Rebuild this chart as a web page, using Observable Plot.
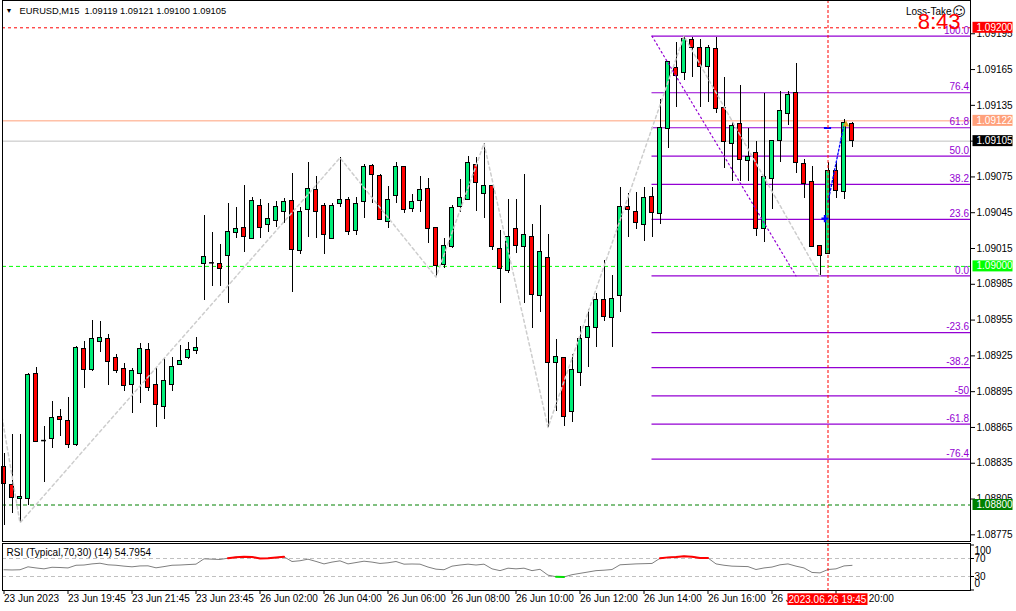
<!DOCTYPE html>
<html><head><meta charset="utf-8">
<script src="https://cdn.jsdelivr.net/npm/d3@7"></script>
<script src="https://cdn.jsdelivr.net/npm/@observablehq/plot@0.6"></script>
<style>
body{margin:0;background:#fff;}
#wrap{position:relative;width:1016px;height:611px;overflow:hidden;background:#fff;}
#wrap svg{position:absolute;left:0;}
</style></head><body><div id="wrap"></div>
<script>
// ---------------- DATA ----------------
const symbol = "EURUSD,M15";
const opens = [
1.08832,1.08817,1.08805,1.08805,1.08910,1.08854,1.08855,1.08874,1.08870,1.08850,
1.08931,1.08913,1.08937,1.08939,1.08923,1.08914,1.08901,1.08910,1.08930,1.08901,
1.08882,1.08901,1.08917,1.08923,1.08929,1.09002,1.09003,1.09002,1.09009,1.09028,
1.09032,1.09023,1.09051,1.09035,1.09038,1.09046,1.09055,1.09013,1.09047,1.09064,
1.09051,1.09023,1.09052,1.09056,1.09030,1.09054,1.09084,1.09076,1.09037,1.09059,
1.09083,1.09048,1.09055,1.09065,1.09032,1.09001,1.09016,1.09050,1.09056,1.09085,
1.09061,1.09067,1.09015,1.08996,1.09031,1.09016,1.09025,1.08975,1.09007,1.08919,
1.08923,1.08878,1.08911,1.08940,1.08948,1.08972,1.08957,1.08975,1.09050,1.09046,
1.09035,1.09058,1.09044,1.09115,1.09166,1.09162,1.09190,1.09183,1.09167,1.09182,
1.09133,1.09103,1.09119,1.09088,1.09095,1.09031,1.09073,1.09105,1.09128,1.09145,
1.09086,1.09071,1.09017,1.09010,1.09080,1.09062,1.09119];
const highs = [
1.08843,1.08859,1.08859,1.08910,1.08915,1.08866,1.08887,1.08880,1.08890,1.08933,
1.08937,1.08955,1.08954,1.08943,1.08926,1.08919,1.08914,1.08935,1.08935,1.08915,
1.08923,1.08924,1.08934,1.08936,1.08940,1.09043,1.09028,1.09018,1.09053,1.09049,
1.09068,1.09058,1.09056,1.09053,1.09054,1.09057,1.09078,1.09049,1.09087,1.09075,
1.09053,1.09053,1.09091,1.09058,1.09058,1.09085,1.09085,1.09077,1.09067,1.09087,
1.09084,1.09060,1.09075,1.09074,1.09032,1.09023,1.09051,1.09073,1.09092,1.09091,
1.09103,1.09067,1.09030,1.09056,1.09056,1.09077,1.09035,1.09051,1.09027,1.08939,
1.08923,1.08926,1.08950,1.08964,1.08977,1.09005,1.08992,1.09066,1.09061,1.09062,
1.09066,1.09066,1.09140,1.09171,1.09188,1.09193,1.09192,1.09190,1.09185,1.09192,
1.09158,1.09121,1.09152,1.09116,1.09105,1.09145,1.09105,1.09147,1.09147,1.09170,
1.09090,1.09084,1.09017,1.09087,1.09087,1.09123,1.09121];
const lows = [
1.08783,1.08793,1.08785,1.08800,1.08852,1.08819,1.08847,1.08857,1.08847,1.08849,
1.08898,1.08912,1.08928,1.08900,1.08910,1.08895,1.08877,1.08885,1.08895,1.08865,
1.08872,1.08895,1.08917,1.08922,1.08926,1.08971,1.08983,1.08983,1.08969,1.09023,
1.09012,1.09023,1.09023,1.09028,1.09033,1.09036,1.08978,1.09010,1.09024,1.09023,
1.09010,1.09023,1.09049,1.09026,1.09026,1.09040,1.09053,1.09039,1.09032,1.09053,
1.09044,1.09045,1.09045,1.09019,1.08991,1.08998,1.09015,1.09045,1.09056,1.09046,
1.09040,1.09013,1.08969,1.08994,1.09011,1.08969,1.08948,1.08961,1.08865,1.08878,
1.08866,1.08869,1.08899,1.08915,1.08932,1.08954,1.08932,1.08961,1.09024,1.09031,
1.09021,1.09024,1.09035,1.09099,1.09133,1.09156,1.09158,1.09133,1.09137,1.09128,
1.09082,1.09071,1.09071,1.09071,1.09025,1.09020,1.09048,1.09087,1.09118,1.09078,
1.09057,1.09016,1.08992,1.09010,1.09057,1.09056,1.09100];
const closes = [
1.08818,1.08806,1.08807,1.08909,1.08853,1.08854,1.08873,1.08871,1.08850,1.08932,
1.08913,1.08939,1.08940,1.08920,1.08912,1.08900,1.08912,1.08931,1.08898,1.08884,
1.08904,1.08916,1.08921,1.08930,1.08932,1.09008,1.09003,1.08998,1.09029,1.09031,
1.09025,1.09055,1.09032,1.09040,1.09050,1.09054,1.09014,1.09046,1.09065,1.09046,
1.09026,1.09051,1.09056,1.09029,1.09052,1.09083,1.09077,1.09039,1.09056,1.09083,
1.09047,1.09054,1.09064,1.09031,1.09000,1.09017,1.09049,1.09057,1.09087,1.09070,
1.09067,1.09016,1.08998,1.09025,1.09017,1.09026,1.08976,1.09012,1.08919,1.08924,
1.08874,1.08913,1.08939,1.08949,1.08972,1.08958,1.08973,1.09050,1.09047,1.09036,
1.09057,1.09045,1.09116,1.09171,1.09160,1.09191,1.09183,1.09167,1.09183,1.09132,
1.09104,1.09118,1.09089,1.09092,1.09031,1.09075,1.09105,1.09130,1.09144,1.09087,
1.09069,1.09016,1.09009,1.09080,1.09063,1.09120,1.09105];
const rsiValues = [
45.0,44.5,45.0,51.5,49.0,47.0,50.5,50.0,49.0,55.0,
55.5,58.0,59.5,56.0,55.0,53.0,51.5,53.5,53.7,49.3,
52.0,55.0,55.5,56.5,57.4,69.3,68.5,67.8,70.7,73.0,
73.7,73.5,70.2,70.4,72.0,73.7,63.3,65.0,68.5,63.5,
58.0,62.0,64.8,58.0,61.0,64.0,62.0,59.0,60.5,63.3,
57.4,57.8,57.4,51.0,46.3,45.0,53.0,55.5,57.4,55.5,
57.4,47.0,43.0,48.5,47.0,48.5,43.0,46.0,33.0,29.5,
29.0,34.0,37.0,40.0,43.0,44.0,45.5,56.0,57.0,58.0,
58.5,59.0,70.5,72.5,73.5,75.0,74.0,71.0,71.0,58.0,
55.0,53.0,52.5,52.0,45.5,49.0,51.0,56.0,58.0,53.0,
49.0,39.0,38.0,45.5,47.0,53.5,54.7954];
const timeTickBars = [0,8,16,24,32,40,48,56,64,72,80,88,96,104];
const timeTickLabels = ["23 Jun 2023","23 Jun 19:45","23 Jun 21:45","23 Jun 23:45","26 Jun 02:00","26 Jun 04:00","26 Jun 06:00","26 Jun 08:00","26 Jun 10:00","26 Jun 12:00","26 Jun 14:00","26 Jun 16:00","26 Jun 18:00","26 Jun 20:00"];
const priceTicks = [1.09195,1.09165,1.09135,1.09105,1.09075,1.09045,1.09015,1.08985,1.08955,1.08925,1.08895,1.08865,1.08835,1.08805,1.08775];
const rsiTicks = [100,70,30,0];
const rsiLevels = [70,30];
const fibHigh = 1.09193, fibLow = 1.08992, fibStartBar = 81, fibEndBar = 99;
const fibLevels = [100,76.4,61.8,50,38.2,23.6,0,-23.6,-38.2,-50,-61.8,-76.4];
const fibLabels = ["100.0","76.4","61.8","50.0","38.2","23.6","0.0","-23.6","-38.2","-50","-61.8","-76.4"];
const zigBars   = [-2,2,42,54,60,68,85,102];
const zigPrices = [1.08943,1.08785,1.09091,1.08991,1.09103,1.08865,1.09193,1.08992];
const cursorBar = 103;
const cursorLabel = "2023.06.26 19:45";
const bluePathBars = [103,105];
const bluePathPrices = [1.09054,1.09119];
const blueCrossBar = 103, blueCrossPrice = 1.09040;
const blueDashBar = 103, blueDashPrice = 1.09116;
const goldMarkBar = 105, goldMarkPrice = 1.09119;
const levelPrices = [1.09200,1.09122,1.09105,1.09000,1.08800]; // alarm, line, bid, support, support
const timerText = "8:43";
const timerTitle = "Loss-Take";
const rsiName = "RSI (Typical,70,30) (14)";

// ---------------- BUILD ----------------
const FONT = '"Liberation Sans", Arial, sans-serif';
const f5 = d3.format(".5f");
const n = opens.length;
const bars = d3.range(n).map(i => ({i, o: opens[i], h: highs[i], l: lows[i], c: closes[i]}));
const dojis = bars.filter(d => d.o === d.c);
const fibs = fibLevels.map((lv, j) => ({lv, label: fibLabels[j], price: fibLow + (fibHigh - fibLow) * lv / 100}));
const zig = zigBars.map((b, j) => ({b, p: zigPrices[j]}));
const fibTrend = [{b: fibStartBar, p: fibHigh}, {b: fibEndBar, p: fibLow}];
const bluePath = bluePathBars.map((b, j) => ({b, p: bluePathPrices[j]}));
const rsiData = rsiValues.map((v, i) => ({i, v}));
const last = n - 1;
const header = symbol + "\u00a0 " + [opens[last], highs[last], lows[last], closes[last]].map(f5).join(" ");

const xDom = [-0.4375, 120.8125];
const W = 1016, RIGHT = 46;
const bull = "#00EE78", bear = "#FF0000", fibColor = "#9400D3";
const lineStyles = [
  {stroke: "#FF0000", dash: "3,3", box: "#FF0000"},
  {stroke: "#FFA07A", dash: null, box: "#FFA07A"},
  {stroke: "#C0C0C0", dash: null, box: "#000000"},
  {stroke: "#00FF00", dash: "4,3", box: "#00FF00"},
  {stroke: "#008000", dash: "4,3", box: "#008000"}
];

const main = Plot.plot({
  width: W, height: 543,
  marginLeft: 2, marginRight: RIGHT, marginTop: 0, marginBottom: 2,
  x: {domain: xDom, range: [0, 970], axis: null},
  y: {domain: [1.088, 1.092], range: [504.5, 27.3], axis: null},
  style: {fontFamily: FONT, fontSize: "10px", background: "#fff", overflow: "visible", color: "#000"},
  marks: [
    levelPrices.map((p, j) => Plot.ruleY([p], {stroke: lineStyles[j].stroke, strokeDasharray: lineStyles[j].dash || undefined})),
    Plot.ruleY(fibs, {y: "price", x1: () => fibStartBar, x2: () => xDom[1], stroke: fibColor, strokeWidth: 1.2}),
    Plot.text(fibs, {y: "price", text: "label", frameAnchor: "right", textAnchor: "end", dx: -1.5, dy: -5.5, fill: fibColor, fontSize: 10}),
    Plot.ruleX(bars, {x: "i", y1: "l", y2: "h", stroke: "#000", shapeRendering: "crispEdges"}),
    Plot.rect(bars, {x1: d => d.i - 0.27, x2: d => d.i + 0.27, y1: "o", y2: "c",
      fill: d => d.c > d.o ? bull : bear, stroke: "#000", shapeRendering: "crispEdges"}),
    Plot.ruleY(dojis, {y: "o", x1: d => d.i - 0.3, x2: d => d.i + 0.3, stroke: "#000", strokeWidth: 1.5}),
    Plot.line(zig, {x: "b", y: "p", stroke: "#CDCDCD", strokeDasharray: "3,3", clip: true}),
    Plot.line(fibTrend, {x: "b", y: "p", stroke: fibColor, strokeDasharray: "1.5,3", strokeWidth: 1.2}),
    Plot.line(bluePath, {x: "b", y: "p", stroke: "#0000FF", strokeDasharray: "2,2", strokeWidth: 1.3}),
    Plot.dot([0], {x: () => blueCrossBar, y: () => blueCrossPrice, symbol: "cross", r: 3, fill: "#0000FF", dx: -3}),
    Plot.ruleY([0], {y: () => blueDashPrice, x1: () => blueDashBar - 0.45, x2: () => blueDashBar + 0.45, stroke: "#0000FF", strokeWidth: 2}),
    Plot.dot([0], {x: () => goldMarkBar, y: () => goldMarkPrice, symbol: "triangle", r: 2.5, fill: "#DAA520", dx: 2}),
    Plot.ruleX([cursorBar], {stroke: "#FF0000", strokeDasharray: "3,2"}),
    Plot.frame({stroke: "#000"}),
    Plot.axisY(priceTicks, {anchor: "right", tickSize: 4, tickPadding: 2, tickFormat: f5, fontSize: 10, label: null}),
    Plot.text(["\u25BC"], {frameAnchor: "top-left", dx: 6.5, dy: 10, fontSize: 7, lineAnchor: "middle", textAnchor: "middle"}),
    Plot.text([header], {frameAnchor: "top-left", dx: 17, dy: 10.5, lineAnchor: "middle", textAnchor: "start", fontSize: 9.3}),
    Plot.text([timerTitle], {frameAnchor: "top-right", dx: -19, dy: 11, lineAnchor: "middle", textAnchor: "end", fontSize: 10}),
    Plot.text(["\u263A"], {frameAnchor: "top-right", dx: -11.5, dy: 11, lineAnchor: "middle", textAnchor: "middle", fontSize: 13, fontFamily: "DejaVu Sans"}),
    Plot.text([timerText], {frameAnchor: "top-right", dx: -10, dy: 21.5, lineAnchor: "middle", textAnchor: "end", fontSize: 22, fill: "#FF0000"})
  ]
});
main.style.top = "0px";

// price tag boxes in the right margin
{
  const sy = main.scale("y");
  const yf = sy.apply ? (v => sy.apply(v)) : d3.scaleLinear(sy.domain, sy.range);
  const svg = d3.select(main);
  const x0 = W - RIGHT + 2.5;
  const g = svg.append("g").attr("text-anchor", "start");
  levelPrices.forEach((p, j) => {
    const y = yf(p);
    g.append("rect").attr("x", x0).attr("y", y - 5.5).attr("width", 40).attr("height", 11).attr("fill", lineStyles[j].box);
    g.append("text").attr("x", x0 + 4).attr("y", y).attr("dy", "0.35em").attr("fill", "#fff")
      .attr("text-anchor", "start").attr("font-family", FONT).attr("font-size", 10).text(f5(p));
  });
}

const rsiPlot = Plot.plot({
  width: W, height: 68,
  marginLeft: 2, marginRight: RIGHT, marginTop: 0, marginBottom: 21,
  x: {domain: xDom, range: [0, 970], axis: null},
  y: {domain: [0, 100], range: [46.5, 1.5], axis: null},
  style: {fontFamily: FONT, fontSize: "10px", background: "transparent", overflow: "visible", color: "#000"},
  marks: [
    Plot.ruleY(rsiLevels, {stroke: "#C0C0C0", strokeDasharray: "4,3"}),
    Plot.line(rsiData, {x: "i", y: "v", stroke: "#7F7F7F", strokeWidth: 1}),
    Plot.line(rsiData, {x: "i", y: d => d.v >= 70 ? d.v : NaN, stroke: "#FF0000", strokeWidth: 2}),
    Plot.line(rsiData, {x: "i", y: d => d.v <= 30 ? d.v : NaN, stroke: "#00E000", strokeWidth: 2}),
    Plot.ruleX([cursorBar], {stroke: "#FF0000", strokeDasharray: "3,2"}),
    Plot.frame({stroke: "#000"}),
    Plot.axisY(rsiTicks, {anchor: "right", tickSize: 3, tickFormat: () => "", label: null}),
    Plot.text([70, 30], {y: d => d, text: d => String(d), frameAnchor: "right", dx: 4, textAnchor: "start", lineAnchor: "middle", fontSize: 10}),
    Plot.text([100], {y: d => d, text: d => String(d), frameAnchor: "right", dx: 4, dy: 5.5, textAnchor: "start", lineAnchor: "middle", fontSize: 10}),
    Plot.text([0], {y: d => d, text: d => String(d), frameAnchor: "right", dx: 4, dy: -6, textAnchor: "start", lineAnchor: "middle", fontSize: 10}),
    Plot.text([rsiName + " " + d3.format(".4f")(rsiValues[last])], {frameAnchor: "top-left", dx: 4, dy: 9.5, lineAnchor: "middle", textAnchor: "start", fontSize: 10}),
    Plot.axisX(timeTickBars, {anchor: "bottom", tickSize: 4, tickPadding: 0, textAnchor: "start",
      tickFormat: b => timeTickLabels[timeTickBars.indexOf(b)], fontSize: 10, label: null})
  ]
});
rsiPlot.style.top = "543px";

// cursor time label
{
  const sx = rsiPlot.scale("x");
  const xf = sx.apply ? (v => sx.apply(v)) : d3.scaleLinear(sx.domain, sx.range);
  const cx = xf(cursorBar);
  const svg = d3.select(rsiPlot);
  svg.append("rect").attr("x", cx - 40).attr("y", 50.3).attr("width", 80).attr("height", 11.7).attr("fill", "#FF0000");
  svg.append("text").attr("x", cx).attr("y", 56.2).attr("dy", "0.35em").attr("text-anchor", "middle")
    .attr("fill", "#fff").attr("font-family", FONT).attr("font-size", 10).text(cursorLabel);
}

document.getElementById("wrap").append(main, rsiPlot);
</script></body></html>
